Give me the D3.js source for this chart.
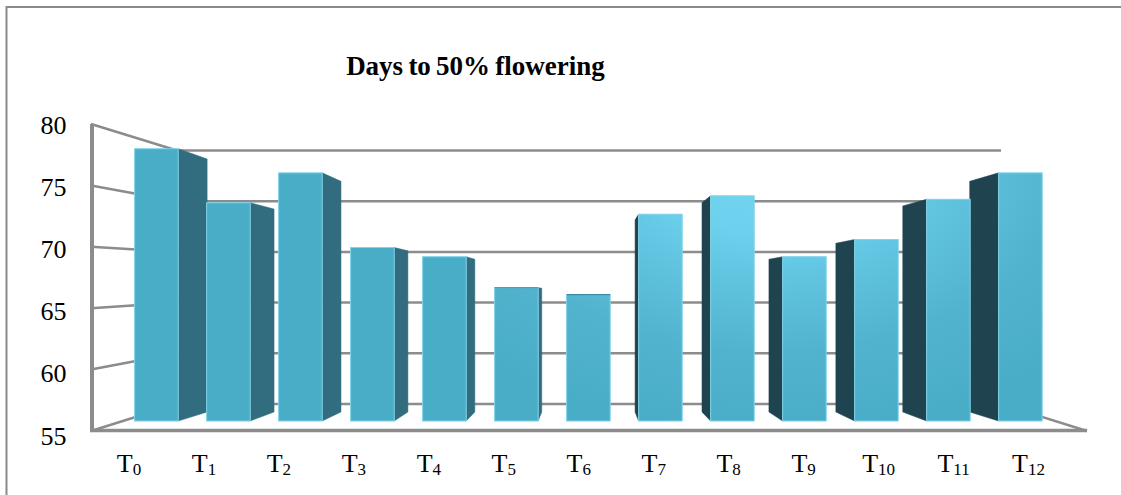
<!DOCTYPE html>
<html><head><meta charset="utf-8">
<script src="https://cdn.jsdelivr.net/npm/d3@7/dist/d3.min.js"></script>
<style>html,body{margin:0;background:#fff}svg{display:block}text{font-family:"Liberation Serif",serif;fill:#000}</style>
</head><body><svg id="c" width="1121" height="495"></svg>
<script>
const categories=["0","1","2","3","4","5","6","7","8","9","10","11","12"];
const values=[78.7,74,76.6,70.1,69.3,66.6,66,73,74.6,69.3,70.8,74.3,76.6];
const yTicks=[55,60,65,70,75,80];
const svg=d3.select("#c");
const frontY=d3.scaleLinear().domain([55,80]).range([431,124]);
const backY=d3.scaleLinear().domain([55,80]).range([404,150.5]);
const barY=d3.scaleLinear().domain([55,80]).range([421,133.8]);
const labelY=d3.scaleLinear().domain([55,80]).range([444.5,134]);
const barW=43.6;
const bandX=d3.scalePoint().domain(categories).range([134.6,134.6+72*12]);
const labelX=d3.scalePoint().domain(categories).range([129,1028.5]);
const vp=[588.6,293.3],k=0.9295;
const proj=(x,y)=>[vp[0]+(x-vp[0])*k,vp[1]+(y-vp[1])*k];

const defs=svg.append("defs");
const g=defs.append("radialGradient").attr("id","face").attr("gradientUnits","userSpaceOnUse")
 .attr("cx",0).attr("cy",0).attr("r",1)
 .attr("gradientTransform","translate(770,170) scale(420,260)");
[[0,"#72D6F2"],[0.25,"#6DD1ED"],[0.4,"#62C5E1"],[0.7,"#52B3CE"],[1,"#4AADC8"]].forEach(s=>g.append("stop").attr("offset",s[0]).attr("stop-color",s[1]));

// frame
svg.append("path").attr("d","M6.5,495V7H1121").attr("fill","none").attr("stroke","#8a8a8a").attr("stroke-width",2);

// back gridlines and left wall lines
const grid="#8c8c8c";
const backL=177,backR=1001,frontL=91,frontR=1087;
const line=(x1,y1,x2,y2,w)=>svg.append("line").attr("x1",x1).attr("y1",y1).attr("x2",x2).attr("y2",y2).attr("stroke",grid).attr("stroke-width",w);
yTicks.forEach(v=>{
 line(backL,backY(v),backR,backY(v),2.5);
 line(frontL,frontY(v),backL,backY(v),2.5);
});
line(frontR,431,backR,backY(55),2.5);
line(92,124,92,432,4);
line(90,430.5,1087,430.5,3.5);

// side faces
values.forEach((v,i)=>{
 const x0=bandX(categories[i]),x1=x0+barW,yT=barY(v),yB=barY(55);
 const right=x1<vp[0], left=x0>vp[0];
 if(!right&&!left) return;
 const ex=right?x1:x0;
 const a=proj(ex,yT),b=proj(ex,yB);
 svg.append("polygon").attr("points",[[ex,yT],a,b,[ex,yB]].map(p=>p.join(",")).join(" "))
  .attr("fill",right?"#316D7E":"#1F4450").attr("stroke",right?"#316D7E":"#1F4450").attr("stroke-width",0.5);
});
// front faces
values.forEach((v,i)=>{
 const x0=bandX(categories[i]);
 svg.append("rect").attr("x",x0).attr("y",barY(v)).attr("width",barW).attr("height",barY(55)-barY(v))
  .attr("fill",i<5?"#4AADC8":"url(#face)").attr("stroke","#80D2E8").attr("stroke-width",1);
 if(v<67) svg.append("line").attr("x1",x0).attr("x2",x0+barW).attr("y1",barY(v)).attr("y2",barY(v)).attr("stroke","#3A8CA3").attr("stroke-width",1.2);
});

// y labels
yTicks.forEach(v=>svg.append("text").attr("x",66.5).attr("y",labelY(v)).attr("text-anchor","end").attr("font-size",26).text(v));
// x labels
categories.forEach(c=>{
 const t=svg.append("text").attr("x",labelX(c)).attr("y",472).attr("text-anchor","middle").attr("font-size",26);
 t.append("tspan").text("T");
 t.append("tspan").attr("font-size",17).attr("dy",3).text(c);
});
svg.append("text").attr("x",475.5).attr("y",75).attr("text-anchor","middle").attr("font-size",27).attr("font-weight","bold").attr("word-spacing",-1.5).text("Days to 50% flowering");
</script></body></html>
